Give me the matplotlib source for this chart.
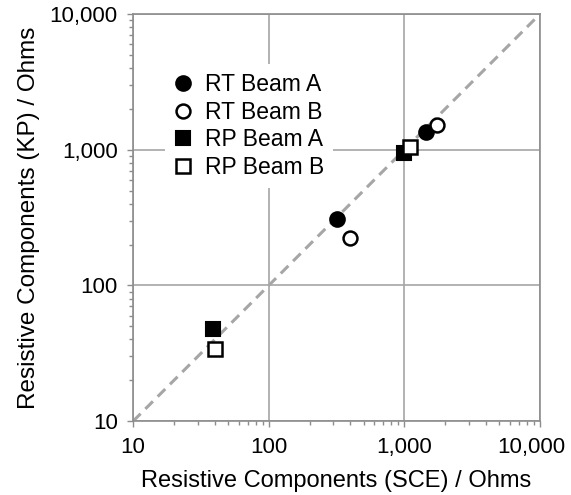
import matplotlib
matplotlib.use("Agg")
import matplotlib.pyplot as plt
from matplotlib.ticker import FuncFormatter, LogLocator, NullFormatter
from matplotlib.transforms import ScaledTranslation

plt.rcParams['font.family'] = ['Liberation Sans', 'DejaVu Sans']

# values (SCE on x, KP on y), Ohms
rt_a_sce = [320, 1450]
rt_a_kp = [310, 1350]
rt_b_sce = [400, 1740]
rt_b_kp = [224, 1520]
rp_a_sce = [39, 1000]
rp_a_kp = [48, 940]
rp_b_sce = [40, 1100]
rp_b_kp = [34, 1040]

limits = [10, 10000]
x_label = "Resistive Components (SCE) / Ohms"
y_label = "Resistive Components (KP) / Ohms"

grey = "#a6a6a6"
axis_grey = "#8c8c8c"
fs = 16

fig = plt.figure(figsize=(5.71, 4.95), dpi=100)
ax = fig.add_axes([0.233, 0.149, 0.713, 0.823])

# 1:1 line
ax.plot(limits, limits, ls=(0, (3.5, 2.2)), color=grey, lw=2.2, zorder=2)

ax.plot(rt_a_sce, rt_a_kp, 'o', ms=10.5, mfc='black', mec='black', mew=1.5,
        ls='none', label='RT Beam A', zorder=4)
ax.plot(rt_b_sce, rt_b_kp, 'o', ms=10, mfc='white', mec='black', mew=1.8,
        ls='none', label='RT Beam B', zorder=4)
ax.plot(rp_a_sce, rp_a_kp, 's', ms=10, mfc='black', mec='black', mew=1.5,
        ls='none', label='RP Beam A', zorder=4)
ax.plot(rp_b_sce, rp_b_kp, 's', ms=9.5, mfc='white', mec='black', mew=1.8,
        ls='none', label='RP Beam B', zorder=5)

ax.set_xscale('log')
ax.set_yscale('log')
ax.set_xlim(limits)
ax.set_ylim(limits)

fmt = FuncFormatter(lambda v, p: "{:,.0f}".format(v))
for a in (ax.xaxis, ax.yaxis):
    a.set_major_locator(LogLocator(base=10))
    a.set_major_formatter(fmt)
    a.set_minor_locator(LogLocator(base=10, subs=range(2, 10)))
    a.set_minor_formatter(NullFormatter())

ax.grid(True, which='major', color=grey, lw=1.2, zorder=1)
ax.set_axisbelow(True)
for s in ax.spines.values():
    s.set_color(axis_grey)
    s.set_linewidth(1.2)
ax.tick_params(which='major', direction='out', length=4, width=1, color=axis_grey,
               labelsize=fs, pad=7)
ax.tick_params(which='minor', direction='out', length=3, width=1, color=axis_grey)

ax.set_xlabel(x_label, fontsize=17, labelpad=9)
ax.set_ylabel(y_label, fontsize=17.5, labelpad=7)

leg = ax.legend(loc='upper left', bbox_to_anchor=(0.05, 0.905), fontsize=fs + 0.5,
                frameon=True, facecolor='white', edgecolor='none', framealpha=1,
                handlelength=0.8, handletextpad=0.55, labelspacing=0.2,
                borderpad=0.4, fancybox=False)
leg.set_zorder(3)

# last x tick label sits a bit to the left so it stays inside the figure
fig.canvas.draw()
for t in ax.xaxis.get_major_ticks():
    if abs(t.get_loc() - limits[1]) < 1:
        t.label1.set_transform(t.label1.get_transform() +
                               ScaledTranslation(-9 / 100, 0, fig.dpi_scale_trans))

fig.savefig("out.png", dpi=100)
